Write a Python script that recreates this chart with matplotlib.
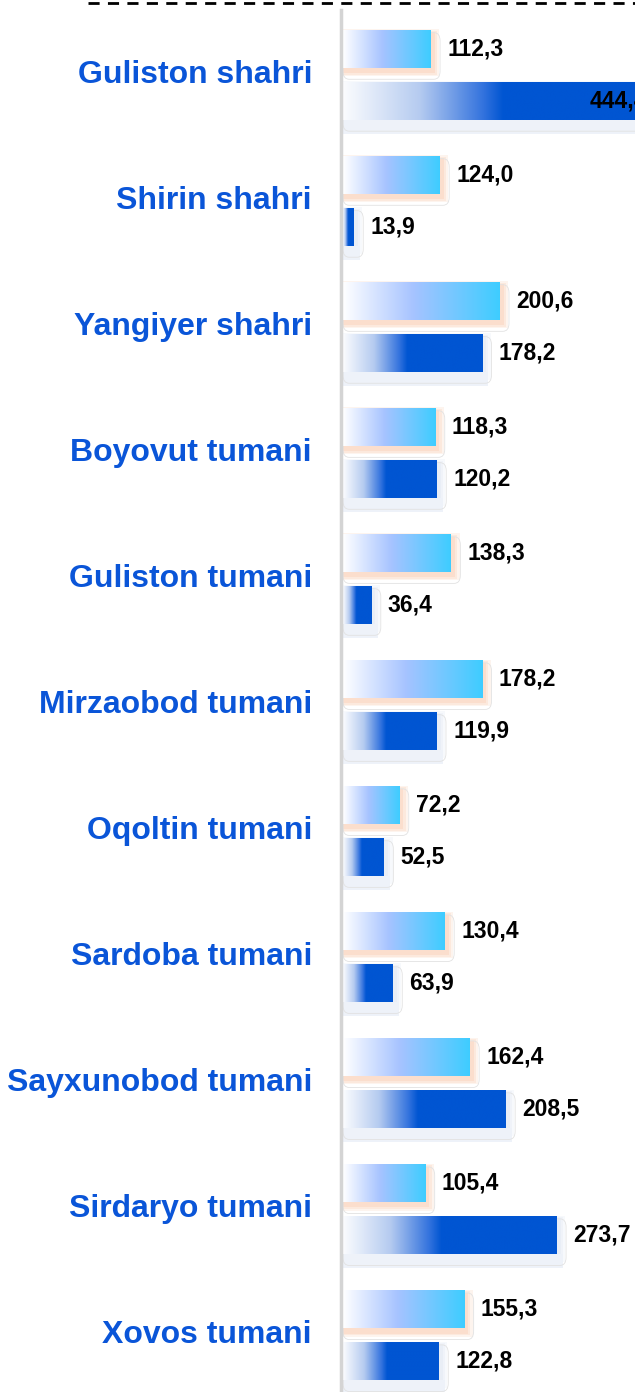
import matplotlib
matplotlib.use("Agg")
import matplotlib.pyplot as plt
import numpy as np
from matplotlib.colors import LinearSegmentedColormap
from matplotlib.patches import Rectangle, FancyBboxPatch
from matplotlib.lines import Line2D

districts = ["Guliston shahri", "Shirin shahri", "Yangiyer shahri", "Boyovut tumani",
             "Guliston tumani", "Mirzaobod tumani", "Oqoltin tumani", "Sardoba tumani",
             "Sayxunobod tumani", "Sirdaryo tumani", "Xovos tumani"]
series_light = [112.3, 124.0, 200.6, 118.3, 138.3, 178.2, 72.2, 130.4, 162.4, 105.4, 155.3]
series_dark = [444.4, 13.9, 178.2, 120.2, 36.4, 119.9, 52.5, 63.9, 208.5, 273.7, 122.8]

W, H = 635, 1392
fig = plt.figure(figsize=(W / 100, H / 100), dpi=100)
ax = fig.add_axes([343 / W, 0, (W - 343) / W, 1])
xmax = 374
ax.set_xlim(0, xmax)
ax.set_ylim(10.45, -0.595)
ax.axis("off")

light_cmap = LinearSegmentedColormap.from_list(
    "light", [(0, "#FFFFFF"), (0.45, "#A6C3FF"), (1, "#3ECDFF")])
dark_cmap = LinearSegmentedColormap.from_list(
    "dark", [(0, "#FBFCFE"), (0.22, "#B5CBF0"), (0.4, "#3574DE"), (0.46, "#0055D2"), (1, "#0055D2")])
grad = np.linspace(0, 1, 256).reshape(1, -1)

off = 0.206
h = 0.30

for i, name in enumerate(districts):
    for val, dy, cmap, shadow in [(series_light[i], -off, light_cmap, "#FBD5BE"),
                                  (series_dark[i], off, dark_cmap, "#E3EAF5")]:
        y0 = i + dy - h / 2
        # soft shadow under the bar
        for k, a in enumerate([0.25, 0.35, 0.5]):
            grow = (3 - k) * 0.012
            ax.add_patch(Rectangle((0, y0 + 0.03 - grow), val + 2 + (3 - k) * 3, h + 2 * grow,
                                   facecolor=shadow, edgecolor="none", alpha=a, zorder=1))
        if dy > 0:
            ax.add_patch(Rectangle((0, y0 + h), val + 8, 0.11, facecolor="#EEF2F9",
                                   edgecolor="none", zorder=1))
        ax.add_patch(FancyBboxPatch((0, y0 + 0.02), val + 12, h + 0.07,
                                    boxstyle="round,pad=0,rounding_size=8",
                                    mutation_aspect=0.008, facecolor="none",
                                    edgecolor="#E2E2E2", lw=0.6, zorder=1))
        ax.imshow(grad, cmap=cmap, aspect="auto", extent=(0, val, y0 + h, y0),
                  interpolation="bicubic", zorder=2)
        txt = f"{val:.1f}".replace(".", ",")
        if val > xmax:
            # bar runs past the edge, label sits inside it like the original
            ax.text(xmax * 0.845, i + dy, txt, ha="left", va="center", fontsize=16.5,
                    fontweight="bold", family="Liberation Sans", color="black", zorder=4,
                    clip_on=False)
        else:
            ax.text(val + 21, i + dy, txt, ha="left", va="center", fontsize=16.5,
                    fontweight="bold", family="Liberation Sans", color="black", zorder=4)
    fig.text(312 / W, 1 - (75 + 126 * i) / H, name, ha="right", va="center",
             fontsize=23, fontweight="bold", family="Liberation Sans", color="#0A55D8")

ax.set_xlim(0, xmax)
ax.set_ylim(10.45, -0.595)

# vertical axis line and top dashed line
fig.add_artist(Line2D([341 / W, 341 / W], [0, 1 - 10 / H], color="#D4D4D4", lw=2.5))
fig.add_artist(Line2D([88 / W, 1], [1 - 3 / H, 1 - 3 / H], color="black", lw=2,
                      ls=(0, (4, 3))))

plt.savefig("out.png", dpi=100)
plt.close()
